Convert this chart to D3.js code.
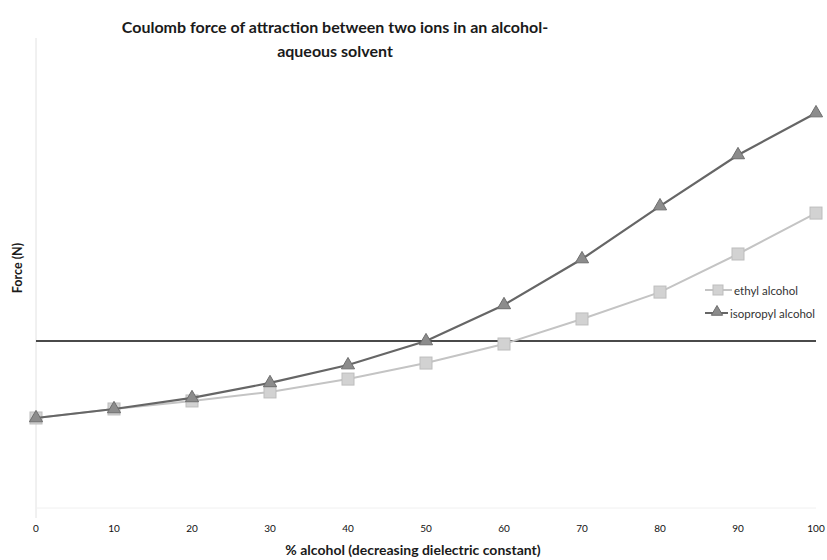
<!DOCTYPE html>
<html><head><meta charset="utf-8">
<script src="https://cdn.jsdelivr.net/npm/d3@7"></script>
<style>body{margin:0;background:#fff}svg{display:block}</style>
</head><body>
<svg id="c" width="827" height="560"></svg>
<script>
const percent = [0,10,20,30,40,50,60,70,80,90,100];
const ethyl = [0.539,0.593,0.641,0.695,0.772,0.868,0.982,1.132,1.293,1.521,1.766];
const isopropyl = [0.539,0.593,0.659,0.749,0.856,1.000,1.216,1.491,1.808,2.114,2.365];
const reference = 1.0;
const seriesNames = ["ethyl alcohol","isopropyl alcohol"];
const xTicks = [0,10,20,30,40,50,60,70,80,90,100];

const svg = d3.select("#c");
const font = "Lato, 'Open Sans', sans-serif";
const x = d3.scaleLinear().domain([0,100]).range([36,816]);
const y = d3.scaleLinear().domain([0,2.8144]).range([508,38]);

// y axis faint line
svg.append("line").attr("x1",36).attr("x2",36).attr("y1",38).attr("y2",518)
  .attr("stroke","#e2e2e2").attr("stroke-width",1);
svg.append("line").attr("x1",36).attr("x2",816).attr("y1",508).attr("y2",508)
  .attr("stroke","#f0f0f0").attr("stroke-width",1);

// x tick labels
svg.append("g").selectAll("text").data(xTicks).join("text")
  .attr("x",d=>x(d)).attr("y",532).attr("text-anchor","middle")
  .attr("font-family",font).attr("font-size",10).attr("fill","#111").text(d=>d);

// reference line
svg.append("line").attr("x1",x(0)).attr("x2",x(100)).attr("y1",y(reference)).attr("y2",y(reference))
  .attr("stroke","#4a4a4a").attr("stroke-width",2);

const line = d3.line().x((d,i)=>x(percent[i])).y(d=>y(d));

// ethyl
svg.append("path").datum(ethyl).attr("d",line).attr("fill","none")
  .attr("stroke","#c4c4c4").attr("stroke-width",2);
svg.append("g").selectAll("rect").data(ethyl).join("rect")
  .attr("x",(d,i)=>x(percent[i])-6).attr("y",d=>y(d)-6).attr("width",12).attr("height",12)
  .attr("fill","#d2d2d2").attr("stroke","#bdbdbd").attr("stroke-width",1);

// isopropyl
svg.append("path").datum(isopropyl).attr("d",line).attr("fill","none")
  .attr("stroke","#666").attr("stroke-width",2.2);
const tri = d3.symbol().type(d3.symbolTriangle).size(75);
svg.append("g").selectAll("path").data(isopropyl).join("path")
  .attr("d",tri).attr("transform",(d,i)=>`translate(${x(percent[i])},${y(d)})`)
  .attr("fill","#8c8c8c").attr("stroke","#6e6e6e").attr("stroke-width",1);

// legend
const lg = svg.append("g");
lg.append("line").attr("x1",705).attr("x2",732).attr("y1",290).attr("y2",290).attr("stroke","#c4c4c4").attr("stroke-width",2);
lg.append("rect").attr("x",713).attr("y",285).attr("width",10).attr("height",10).attr("fill","#d2d2d2").attr("stroke","#bdbdbd");
lg.append("text").attr("x",734).attr("y",294.5).attr("font-family",font).attr("font-size",11.5).attr("fill","#333").text(seriesNames[0]);
lg.append("line").attr("x1",705).attr("x2",728).attr("y1",313).attr("y2",313).attr("stroke","#666").attr("stroke-width",2);
lg.append("path").attr("d",d3.symbol().type(d3.symbolTriangle).size(55)).attr("transform","translate(717,312)")
  .attr("fill","#8c8c8c").attr("stroke","#6e6e6e");
lg.append("text").attr("x",730).attr("y",317.5).attr("font-family",font).attr("font-size",11.5).attr("fill","#333").text(seriesNames[1]);

// title
svg.append("text").attr("x",335).attr("y",33).attr("text-anchor","middle")
  .attr("font-family",font).attr("font-weight","bold").attr("font-size",16).attr("fill","#1a1a1a")
  .text("Coulomb force of attraction between two ions in an alcohol-");
svg.append("text").attr("x",335).attr("y",57).attr("text-anchor","middle")
  .attr("font-family",font).attr("font-weight","bold").attr("font-size",16).attr("fill","#1a1a1a")
  .text("aqueous solvent");

// axis titles
svg.append("text").attr("x",413).attr("y",555).attr("text-anchor","middle")
  .attr("font-family",font).attr("font-weight","bold").attr("font-size",14).attr("fill","#1a1a1a")
  .text("% alcohol (decreasing dielectric constant)");
svg.append("text").attr("transform","translate(22,268) rotate(-90)").attr("text-anchor","middle")
  .attr("font-family",font).attr("font-weight","bold").attr("font-size",12.5).attr("fill","#1a1a1a")
  .text("Force (N)");
</script>
</body></html>
